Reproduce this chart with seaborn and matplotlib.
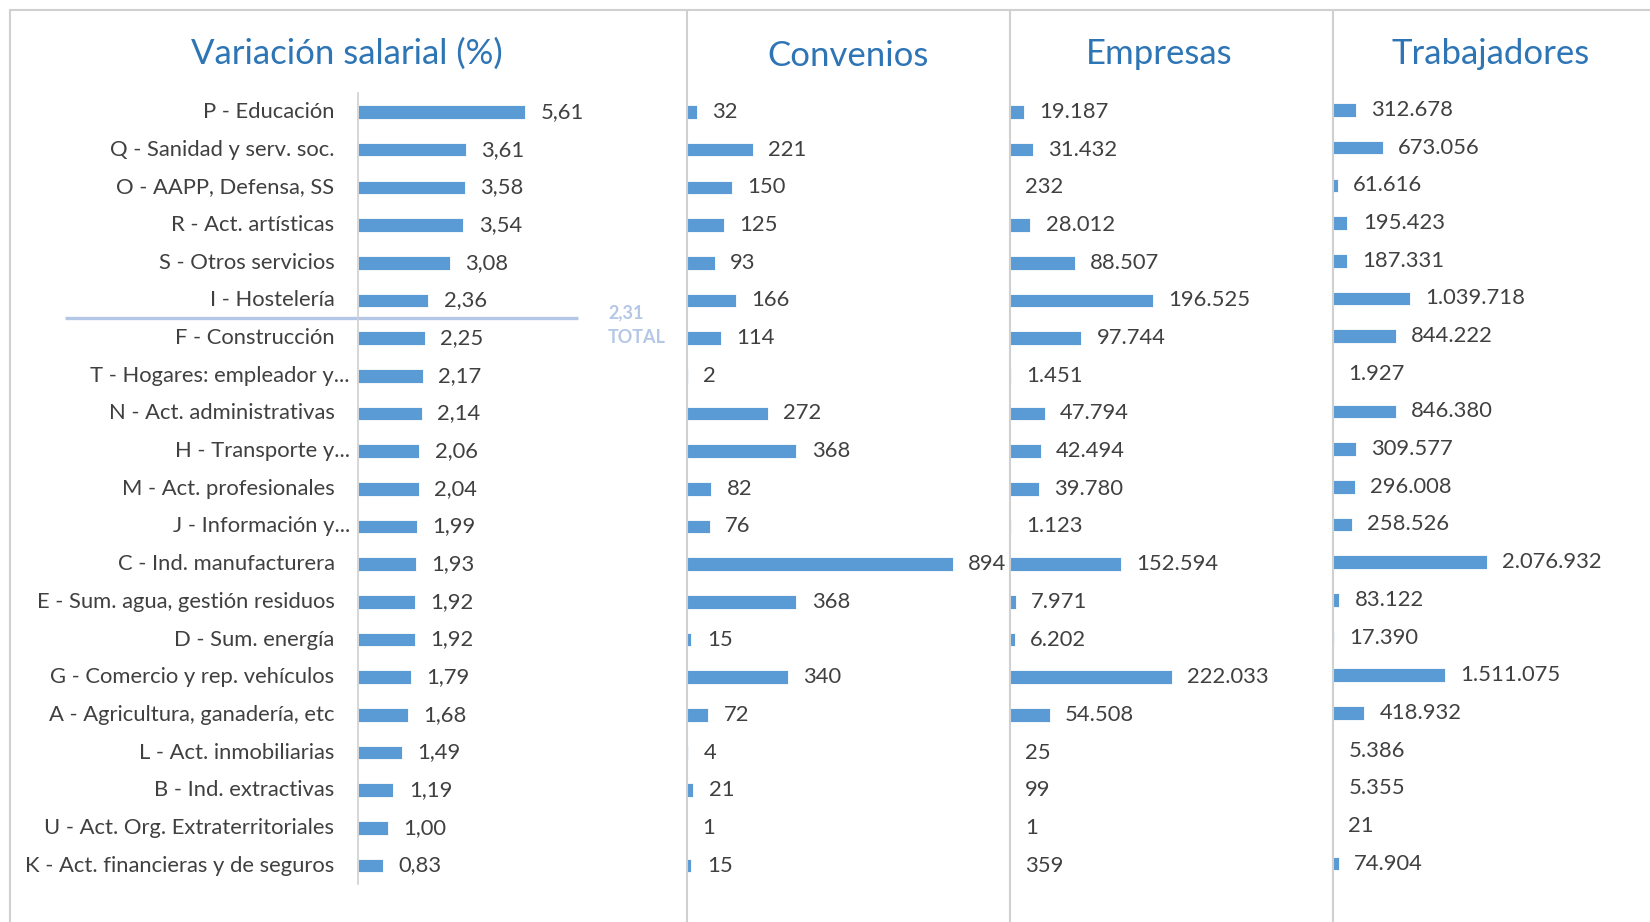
import numpy as np
import seaborn as sns
import matplotlib.pyplot as plt
from matplotlib.lines import Line2D
import matplotlib.transforms as mtransforms

# Data
sectores = [
    "P - Educación", "Q - Sanidad y serv. soc.", "O - AAPP, Defensa, SS",
    "R - Act. artísticas", "S - Otros servicios", "I - Hostelería",
    "F - Construcción", "T - Hogares: empleador y...", "N - Act. administrativas",
    "H - Transporte y...", "M - Act. profesionales", "J - Información y...",
    "C - Ind. manufacturera", "E - Sum. agua, gestión residuos", "D - Sum. energía",
    "G - Comercio y rep. vehículos", "A - Agricultura, ganadería, etc",
    "L - Act. inmobiliarias", "B - Ind. extractivas",
    "U - Act. Org. Extraterritoriales", "K - Act. financieras y de seguros",
]
variacion = [5.61, 3.61, 3.58, 3.54, 3.08, 2.36, 2.25, 2.17, 2.14, 2.06, 2.04,
             1.99, 1.93, 1.92, 1.92, 1.79, 1.68, 1.49, 1.19, 1.00, 0.83]
convenios = [32, 221, 150, 125, 93, 166, 114, 2, 272, 368, 82, 76, 894, 368, 15,
             340, 72, 4, 21, 1, 15]
empresas = [19187, 31432, 232, 28012, 88507, 196525, 97744, 1451, 47794, 42494,
            39780, 1123, 152594, 7971, 6202, 222033, 54508, 25, 99, 1, 359]
trabajadores = [312678, 673056, 61616, 195423, 187331, 1039718, 844222, 1927,
                846380, 309577, 296008, 258526, 2076932, 83122, 17390, 1511075,
                418932, 5386, 5355, 21, 74904]
total_variacion = 2.31
titulos = ["Variación salarial (%)", "Convenios", "Empresas", "Trabajadores"]

sns.set_style("white")
plt.rcParams["font.family"] = ["Lato", "DejaVu Sans"]

BAR = "#5b9bd5"
TXT = "#404040"
TITLE = "#2e75b6"
GRID = "#d0d0d0"
LIGHT = "#b4c7e7"
FS = 15.8

W, H = 1650, 922
fig = plt.figure(figsize=(W / 100, H / 100), dpi=100)


def px(x0, y_top, w, h):
    return [x0 / W, 1 - (y_top + h) / H, w / W, h / H]


row_top, row_h = 93.2, 791.2
row_step = row_h / len(sectores)
n = len(sectores)


def fmt_miles(v):
    return f"{v:,}".replace(",", ".")


def panel(rect, values, xmax, labels):
    ax = fig.add_axes(rect)
    sns.barplot(x=values, y=list(range(n)), orient="h", color=BAR, width=0.36,
                ax=ax, edgecolor="white", linewidth=0.6, saturation=1)
    ax.set_xlim(0, xmax)
    ax.set_ylim(n - 0.5, -0.5)
    ax.set_xticks([])
    ax.set_yticks([])
    ax.set_xlabel("")
    ax.set_ylabel("")
    for s in ax.spines.values():
        s.set_visible(False)
    ax.bar_label(ax.containers[0], labels=labels, padding=11, fontsize=FS,
                 color=TXT)
    return ax


ax1 = panel(px(358, row_top, 298, row_h), variacion, 10,
            [f"{v:.2f}".replace(".", ",") for v in variacion])
ax1.spines["left"].set_visible(True)
ax1.spines["left"].set_color(GRID)
ax1.spines["left"].set_linewidth(1.2)

# category labels (Excel puts the truncated ones closer to the axis)
trans = mtransforms.blended_transform_factory(ax1.transAxes, ax1.transData)
for i, lab in enumerate(sectores):
    off = 8 if lab.endswith("...") else 23.5
    ax1.text(-off / 298, i, lab, transform=trans, ha="right", va="center",
             fontsize=FS, color=TXT)

# total line
y_tot = np.interp(total_variacion, variacion[::-1], list(range(n))[::-1])
ax1.plot([-293 / 298, 220 / 298], [y_tot, y_tot], transform=trans,
         color=LIGHT, lw=2.4, clip_on=False, solid_capstyle="butt")
ax1.text(250 / 298, y_tot - 5 / row_step, f"{total_variacion:.2f}".replace(".", ","),
         transform=trans, ha="left", va="center", fontsize=13,
         fontweight="bold", color=LIGHT)
ax1.text(250 / 298, y_tot + 20 / row_step, "TOTAL", transform=trans, ha="left",
         va="center", fontsize=13, fontweight="bold", color=LIGHT)

panel(px(687, row_top, 297.5, row_h), convenios, 1000,
      [str(v) for v in convenios])
panel(px(1010, row_top, 364.8, row_h), empresas, 500000,
      [fmt_miles(v) for v in empresas])
panel(px(1333, row_top - 2, 296.6, row_h), trabajadores, 4000000,
      [fmt_miles(v) for v in trabajadores])

# titles
for t, xc, yc in zip(titulos, [347, 848, 1159, 1491], [54, 56, 54, 54]):
    fig.text(xc / W, 1 - yc / H, t, ha="center", va="center", fontsize=25,
             color=TITLE)

# frame and panel separators
for x in [10, 686.6, 1009.7, 1332.7]:
    fig.add_artist(Line2D([x / W, x / W], [0, 1 - 10 / H], color=GRID, lw=1.5))
fig.add_artist(Line2D([10 / W, 1], [1 - 10 / H, 1 - 10 / H], color=GRID, lw=1.5))

fig.savefig("out.png", dpi=100)
